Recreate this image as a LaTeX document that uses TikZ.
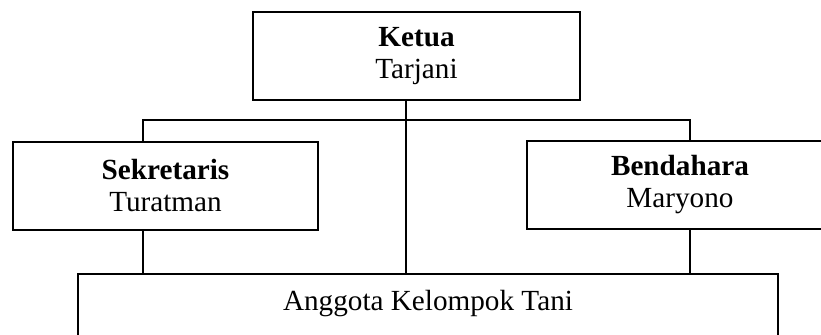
\documentclass[tikz,border=0pt]{standalone}
\usepackage{fontspec}
\setmainfont{Liberation Serif}
\usepackage{tikz}
\newcommand\nodeketua{\textbf{Ketua}\\Tarjani}
\newcommand\nodesekr{\textbf{Sekretaris}\\Turatman}
\newcommand\nodebend{\textbf{Bendahara}\\Maryono}
\newcommand\nodeanggota{Anggota Kelompok Tani}
\tikzstyle{mynodestyle} = [rectangle, draw=black, inner sep=0pt, align=center, font=\fontsize{14.6}{15.8}\selectfont]
\tikzstyle{jb} = [mynodestyle, minimum height=44pt]
\tikzset{every picture/.style={line width=1pt}}

\begin{document}
\begin{tikzpicture}[x=0.5pt, y=-0.5pt]
\useasboundingbox (0,0) rectangle (821,334);
\node[jb, minimum width=163.5pt] (ketua) at (416.5,56) {\nodeketua};
\node[jb, minimum width=152.5pt] (sekr) at (165.5,185.5) {\nodesekr};
\node[jb, minimum width=153pt] (bend) at (680,184.5) {\nodebend};
\node[mynodestyle, minimum width=350pt, text height=18pt, text depth=22pt, anchor=north] (anggota) at (428,273) {\nodeanggota};
\coordinate (spine) at (406,120);
\coordinate (lbranch) at (143,120);
\coordinate (rbranch) at (690,120);
\draw (ketua.south -| spine) -- (anggota.north -| spine);
\draw (sekr.north -| lbranch) -- (lbranch) -- (rbranch) -- (bend.north -| rbranch);
\draw (sekr.south -| lbranch) -- (anggota.north -| lbranch);
\draw (bend.south -| rbranch) -- (anggota.north -| rbranch);
\end{tikzpicture}
\end{document}
